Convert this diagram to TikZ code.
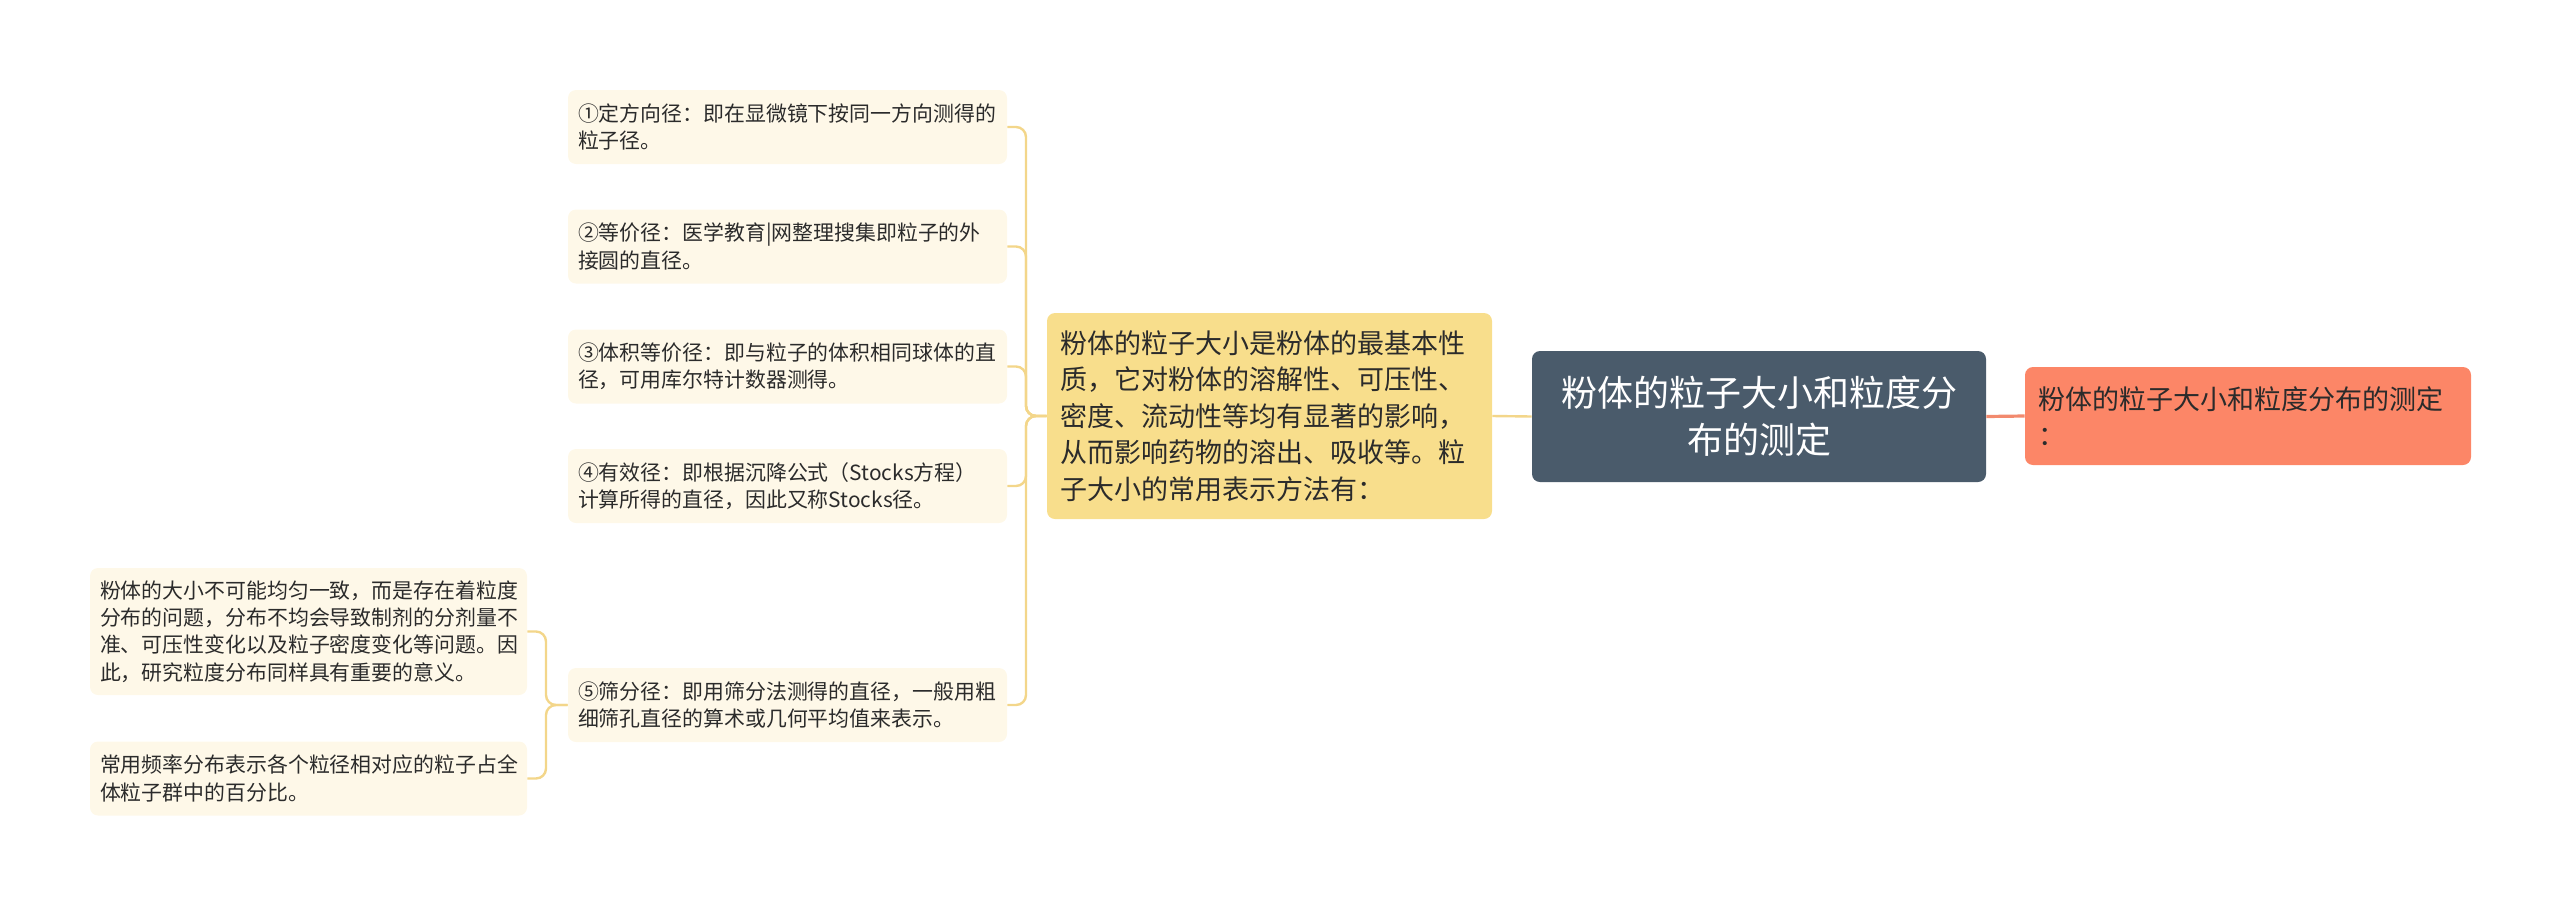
\documentclass[tikz,border=0pt]{standalone}
\usepackage{fontspec}
\setmainfont{Noto Sans CJK SC}
\usepackage{tikz}
\usetikzlibrary{calc}

\definecolor{leafbg}{HTML}{FEF8E8}
\definecolor{mainbg}{HTML}{F8DE8C}
\definecolor{rootbg}{HTML}{4A5B6B}
\definecolor{subbg}{HTML}{FC8667}
\definecolor{linkyel}{HTML}{F3D68A}
\definecolor{linksal}{HTML}{F28A6E}
\definecolor{txt}{HTML}{2B2B2B}

\tikzset{
  leaf/.style={fill=leafbg, rounded corners=4pt, align=left, text=txt,
    inner xsep=5pt, inner ysep=0pt, text width=209.5pt, minimum height=37pt,
    font=\fontsize{10.45pt}{13.6pt}\selectfont},
  mainbox/.style={fill=mainbg, rounded corners=4pt, align=left, text=txt,
    inner xsep=6.5pt, inner ysep=0pt, text width=209.5pt, minimum height=103pt,
    font=\fontsize{13.5pt}{18.3pt}\selectfont},
  rootbox/.style={fill=rootbg, rounded corners=4pt, align=center, text=white,
    inner sep=0pt, minimum width=227pt, minimum height=65.5pt,
    font=\fontsize{18pt}{23.5pt}\selectfont},
  subbox/.style={fill=subbg, rounded corners=4pt, align=left, text=txt,
    inner xsep=6.5pt, inner ysep=0pt, text width=210pt, minimum height=49pt,
    font=\fontsize{13.5pt}{18pt}\selectfont},
  link/.style={draw=linkyel, line width=1.2pt, rounded corners=5pt},
}

\begin{document}
\begin{tikzpicture}[x=0.5pt, y=-0.5pt]
  \useasboundingbox (0,0) rectangle (2560,906);

  \node[rootbox] (root) at (1759,416.5) {粉体的粒子大小和粒度分\\布的测定};
  \node[subbox] (sub) at (2248,416) {粉体的粒子大小和粒度分布的测定\\：};
  \node[mainbox] (main) at (1269.5,416) {粉体的粒子大小是粉体的最基本性\\质，它对粉体的溶解性、可压性、\\密度、流动性等均有显著的影响，\\从而影响药物的溶出、吸收等。粒\\子大小的常用表示方法有：};

  \node[leaf] (d1) at (787.5,127) {①定方向径：即在显微镜下按同一方向测得的\\粒子径。};
  \node[leaf] (d2) at (787.5,246.5) {②等价径：医学教育|网整理搜集即粒子的外\\接圆的直径。};
  \node[leaf] (d3) at (787.5,366.5) {③体积等价径：即与粒子的体积相同球体的直\\径，可用库尔特计数器测得。};
  \node[leaf] (d4) at (787.5,486) {④有效径：即根据沉降公式（Stocks方程）\\计算所得的直径，因此又称Stocks径。};
  \node[leaf] (d5) at (787.5,705) {⑤筛分径：即用筛分法测得的直径，一般用粗\\细筛孔直径的算术或几何平均值来表示。};

  \node[leaf, text width=208.5pt, minimum height=63.5pt] (da) at (308.5,631.5) {粉体的大小不可能均匀一致，而是存在着粒度\\分布的问题，分布不均会导致制剂的分剂量不\\准、可压性变化以及粒子密度变化等问题。因\\此，研究粒度分布同样具有重要的意义。};
  \node[leaf, text width=208.5pt] (db) at (308.5,778.5) {常用频率分布表示各个粒径相对应的粒子占全\\体粒子群中的百分比。};

  \draw[link] (root.west) -- (main.east);
  \draw[draw=linksal, line width=1.6pt] (root.east) -- (sub.west);

  \coordinate (mj) at (1026,416);
  \foreach \d in {d1,d2,d3,d4,d5}
    \draw[link] (main.west) -- (mj) |- (\d.east);

  \coordinate (lj) at (546,705);
  \foreach \d in {da,db}
    \draw[link] (d5.west) -- (lj) |- (\d.east);
\end{tikzpicture}
\end{document}
